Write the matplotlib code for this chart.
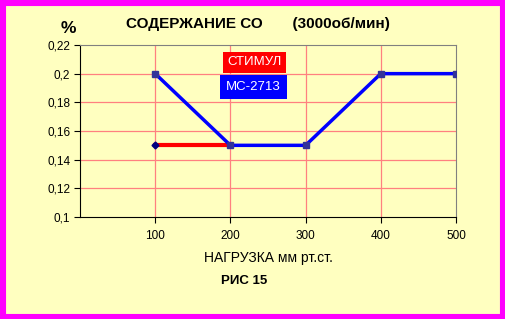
import matplotlib.pyplot as plt
from matplotlib.patches import Rectangle
from matplotlib.ticker import FuncFormatter

plt.rcParams['font.family'] = ['Liberation Sans', 'DejaVu Sans']

# data
x_stimul = [100, 200]
y_stimul = [0.15, 0.15]
x_mc = [100, 200, 300, 400, 500]
y_mc = [0.2, 0.15, 0.15, 0.2, 0.2]
xticks = [100, 200, 300, 400, 500]
yticks = [0.1, 0.12, 0.14, 0.16, 0.18, 0.2, 0.22]

bg = '#FFFFC0'
fig = plt.figure(figsize=(5.05, 3.19), dpi=100, facecolor=bg)
fig.patches.append(Rectangle((0, 0), 1, 1, transform=fig.transFigure, fill=False,
                             edgecolor='#FF00FF', linewidth=8, zorder=10))

ax = fig.add_axes([0.1584, 0.3197, 0.903 - 0.1584, 0.859 - 0.3197])
ax.set_facecolor(bg)
ax.set_xlim(0, 500)
ax.set_ylim(0.1, 0.22)

for v in xticks[:-1]:
    ax.axvline(v, color='#FF8080', lw=0.9, zorder=1)
for v in yticks[1:-1]:
    ax.axhline(v, color='#FF8080', lw=0.9, zorder=1)

ax.plot(x_stimul, y_stimul, color='#FF0000', lw=3, zorder=3)
ax.plot(x_stimul[:1], y_stimul[:1], marker='D', color='#000080', ms=3.5, ls='none', zorder=5)
ax.plot(x_mc, y_mc, color='#0000FF', lw=2.5, zorder=4)
ax.plot(x_mc, y_mc, marker='s', color='#333399', ms=5, ls='none', zorder=5)

ax.spines['top'].set_color('#808080')
ax.spines['right'].set_color('#808080')
ax.spines['left'].set_color('black')
ax.spines['bottom'].set_color('black')

ax.set_xticks(xticks)
ax.set_yticks(yticks)
ax.yaxis.set_major_formatter(FuncFormatter(lambda v, p: ('%g' % round(v, 2)).replace('.', ',')))
ax.tick_params(direction='out', length=4, width=0.8, labelsize=8.5, pad=3)
ax.tick_params(axis='x', pad=5)

ax.set_xlabel('НАГРУЗКА мм рт.ст.', fontsize=10, labelpad=7)

fig.text(0.135, 0.912, '%', fontsize=12.5, fontweight='bold', ha='center', va='center')
fig.text(0.51, 0.925, 'СОДЕРЖАНИЕ СО       (3000об/мин)', fontsize=11,
         fontweight='bold', ha='center', va='center')
fig.text(0.484, 0.118, 'РИС 15', fontsize=9.5, fontweight='bold', ha='center', va='center')

fig.text(0.504, 0.805, 'СТИМУЛ', fontsize=9.5, color='white', ha='center', va='center',
         bbox=dict(boxstyle='square,pad=0.35', fc='#FF0000', ec='none'))
fig.text(0.502, 0.728, 'МС-2713', fontsize=9.5, color='white', ha='center', va='center',
         bbox=dict(boxstyle='square,pad=0.45', fc='#0000FF', ec='none'))

fig.savefig('out.png', dpi=100, facecolor=bg)
